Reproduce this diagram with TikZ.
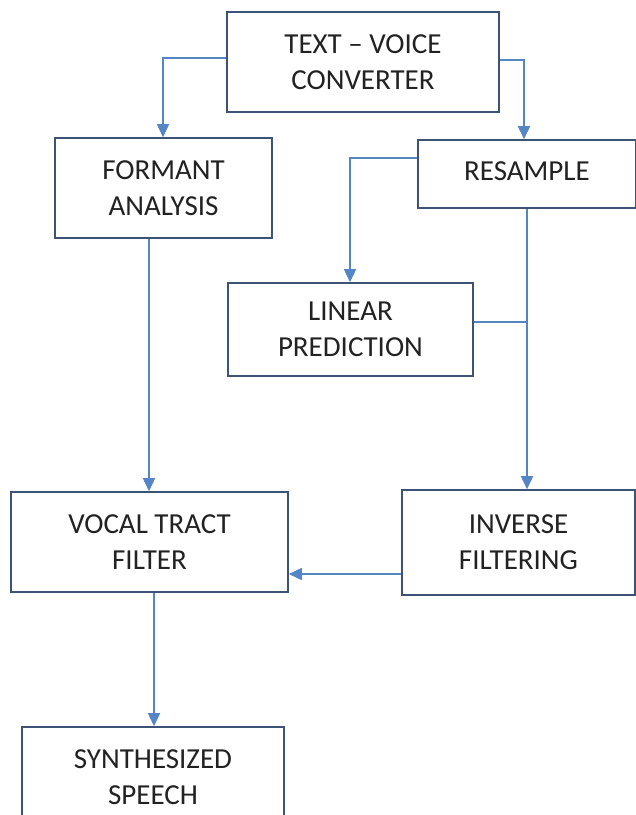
\documentclass[tikz,border=0pt]{standalone}
\usepackage{fontspec}
\setmainfont{Carlito}
\usetikzlibrary{arrows.meta}
\definecolor{boxline}{HTML}{3D5375}
\definecolor{connline}{HTML}{5485C4}
\definecolor{txt}{HTML}{222222}
\tikzset{
  box/.style={draw=boxline, line width=1.6pt, fill=white, align=center, text=txt,
    font=\fontsize{29}{36}\selectfont, inner sep=0pt},
  conn/.style={draw=connline, line width=1.6pt},
  arr/.style={conn, -{Triangle[width=12pt,length=13pt]}}
}
\begin{document}
\begin{tikzpicture}[x=1pt,y=-1pt]
\useasboundingbox (0,0) rectangle (636,815);
\clip (0,0) rectangle (636,815);
\node[box, minimum width=272pt, minimum height=100pt] (tv) at (363,62) {TEXT -- VOICE\\CONVERTER};
\node[box, minimum width=217pt, minimum height=100pt] (fa) at (163.5,188) {FORMANT\\ANALYSIS};
\node[box, minimum width=218pt, minimum height=68pt] (rs) at (527,174) {\raisebox{5pt}{RESAMPLE}};
\node[box, minimum width=245pt, minimum height=93pt] (lp) at (350.5,329.5) {LINEAR\\PREDICTION};
\node[box, minimum width=277pt, minimum height=100pt] (vt) at (149.5,542) {VOCAL TRACT\\FILTER};
\node[box, minimum width=233pt, minimum height=105pt] (inv) at (518.5,542.5) {INVERSE\\FILTERING};
\node[box, minimum width=262pt, minimum height=100pt] (ss) at (153,777) {SYNTHESIZED\\SPEECH};
\coordinate (j) at (527,322);
\draw[arr] (tv.west |- 0,58) -| (163,0 |- fa.north);
\draw[arr] (tv.east |- 0,60) -| (524,0 |- rs.north);
\draw[arr] (rs.west |- 0,158) -| (350,0 |- lp.north);
\draw[arr] (527,0 |- rs.south) -- (527,0 |- inv.north);
\draw[conn] (lp.east |- j) -- (j);
\draw[arr] (149,0 |- fa.south) -- (149,0 |- vt.north);
\draw[arr] (inv.west |- 0,574) -- (vt.east |- 0,574);
\draw[arr] (154,0 |- vt.south) -- (154,0 |- ss.north);
\end{tikzpicture}
\end{document}
